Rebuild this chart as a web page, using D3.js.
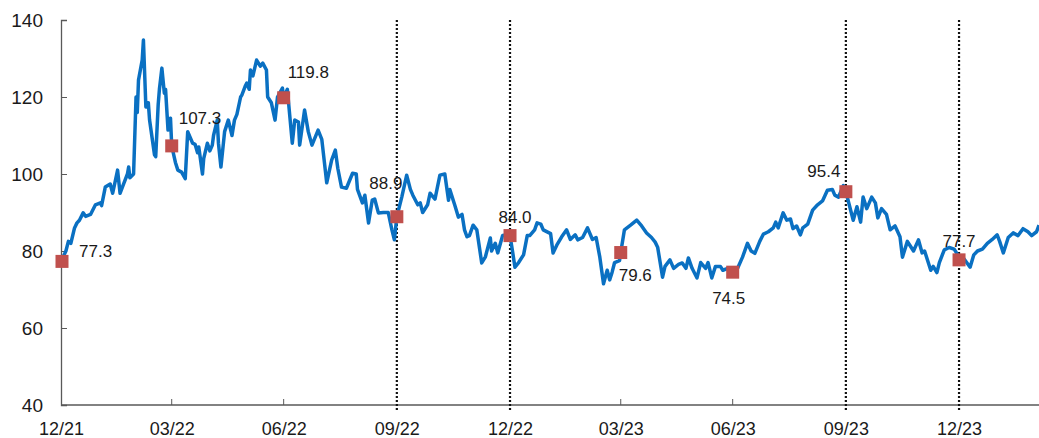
<!DOCTYPE html>
<html>
<head>
<meta charset="utf-8">
<script src="https://cdn.jsdelivr.net/npm/d3@7"></script>
<style>
  body { margin: 0; background: #fff; }
  text { font-family: "Liberation Sans", Arial, sans-serif; }
</style>
</head>
<body>
<div id="chart"></div>
<script>
// daily price
const dates = [
  "2021-12-31","2022-01-04","2022-01-06","2022-01-08","2022-01-11","2022-01-13","2022-01-15","2022-01-18","2022-01-20","2022-01-24",
  "2022-01-28","2022-02-01","2022-02-02","2022-02-05","2022-02-09","2022-02-11","2022-02-15","2022-02-17","2022-02-20","2022-02-23",
  "2022-02-24","2022-02-25","2022-02-28","2022-03-02","2022-03-03","2022-03-04","2022-03-07","2022-03-08","2022-03-10","2022-03-12",
  "2022-03-13","2022-03-17","2022-03-18","2022-03-20","2022-03-21","2022-03-23","2022-03-25","2022-03-26","2022-03-28","2022-03-30",
  "2022-03-31","2022-04-03","2022-04-05","2022-04-08","2022-04-11","2022-04-13","2022-04-17","2022-04-19","2022-04-21","2022-04-22",
  "2022-04-25","2022-04-26","2022-04-29","2022-05-01","2022-05-03","2022-05-04","2022-05-07","2022-05-08","2022-05-10","2022-05-13",
  "2022-05-16","2022-05-19","2022-05-21","2022-05-23","2022-05-26","2022-05-27","2022-05-30","2022-05-31","2022-06-02","2022-06-03",
  "2022-06-05","2022-06-08","2022-06-11","2022-06-13","2022-06-16","2022-06-17","2022-06-20","2022-06-23","2022-06-25","2022-06-29",
  "2022-06-30","2022-07-03","2022-07-07","2022-07-09","2022-07-12","2022-07-13","2022-07-17","2022-07-20","2022-07-23","2022-07-28",
  "2022-07-31","2022-08-04","2022-08-08","2022-08-11","2022-08-13","2022-08-16","2022-08-20","2022-08-25","2022-08-28","2022-08-29",
  "2022-09-02","2022-09-04","2022-09-07","2022-09-10","2022-09-12","2022-09-15","2022-09-19","2022-09-23","2022-09-26","2022-09-28",
  "2022-09-30","2022-10-04","2022-10-08","2022-10-11","2022-10-13","2022-10-17","2022-10-19","2022-10-21","2022-10-25","2022-10-27",
  "2022-10-31","2022-11-04","2022-11-08","2022-11-11","2022-11-12","2022-11-16","2022-11-19","2022-11-22","2022-11-24","2022-11-26",
  "2022-11-28","2022-12-01","2022-12-04","2022-12-08","2022-12-11","2022-12-15","2022-12-16","2022-12-19","2022-12-21","2022-12-25",
  "2022-12-29","2022-12-31","2023-01-02","2023-01-04","2023-01-07","2023-01-11","2023-01-14","2023-01-16","2023-01-20","2023-01-22",
  "2023-01-25","2023-01-27","2023-02-02","2023-02-04","2023-02-07","2023-02-11","2023-02-15","2023-02-18","2023-02-22","2023-02-24",
  "2023-02-28","2023-03-04","2023-03-08","2023-03-11","2023-03-14","2023-03-17","2023-03-20","2023-03-22","2023-03-24","2023-03-26",
  "2023-03-30","2023-03-31","2023-04-03","2023-04-08","2023-04-13","2023-04-17","2023-04-21","2023-04-25","2023-04-28","2023-04-30",
  "2023-05-04","2023-05-06","2023-05-10","2023-05-13","2023-05-17","2023-05-20","2023-05-23","2023-05-25","2023-05-28","2023-06-01",
  "2023-06-04","2023-06-08","2023-06-10","2023-06-13","2023-06-16","2023-06-20","2023-06-22","2023-06-26","2023-06-30","2023-07-04",
  "2023-07-08","2023-07-12","2023-07-15","2023-07-18","2023-07-22","2023-07-25","2023-07-29","2023-08-02","2023-08-04","2023-08-06",
  "2023-08-10","2023-08-13","2023-08-16","2023-08-18","2023-08-21","2023-08-24","2023-08-26","2023-08-30","2023-09-03","2023-09-07",
  "2023-09-11","2023-09-15","2023-09-19","2023-09-21","2023-09-24","2023-09-28","2023-09-30","2023-10-06","2023-10-09","2023-10-12",
  "2023-10-14","2023-10-17","2023-10-21","2023-10-24","2023-10-26","2023-10-29","2023-11-02","2023-11-05","2023-11-09","2023-11-13",
  "2023-11-15","2023-11-19","2023-11-21","2023-11-24","2023-11-28","2023-12-01","2023-12-03","2023-12-08","2023-12-10","2023-12-13",
  "2023-12-15","2023-12-19","2023-12-23","2023-12-27","2023-12-30","2023-12-31","2024-01-04","2024-01-09","2024-01-12","2024-01-15",
  "2024-01-19","2024-01-23","2024-01-27","2024-01-31","2024-02-02","2024-02-05","2024-02-09","2024-02-13","2024-02-17","2024-02-21",
  "2024-02-25","2024-02-28","2024-03-03","2024-03-05"
];
const prices = [
  77.3,80,82.5,82,86,87.3,88,89.9,89,89.5,
  92,92.5,91.8,96.6,97.4,95,101,95,97.5,100,
  101.8,99,100,120,116,124.4,129.6,134.8,117.4,118.5,
  114,105,104.5,118,122,127.5,121,122,111.4,114.5,
  107.3,103,101,100.5,98.8,111,108,107.7,105.5,107,
  100,104,108,106,107.5,110,114,108,101.8,111,
  114,110,114,115.5,120,120.5,123,123.6,122,127,
  125.5,129.6,128,128.8,127,120,118.5,114,120,122.3,
  119.8,122,108,114,113.5,107.5,116.6,111,107.5,111.4,
  109,97.7,103.6,106.2,101.5,96.6,96.3,100.2,100,96,
  92.5,94.5,87.3,93.2,93.5,89.9,90,90,85.5,82.9,
  88.9,94,99.7,96,94.5,92,92.5,90,92,95,
  93.5,99.7,100,93.2,96,92,88.8,89.5,85.5,83.7,
  84,86.7,85.5,76.9,78.5,83.4,80,82,79.5,84,
  84.2,84.0,80,75.8,77,79,84,84,85.5,87.3,
  87,85.5,84.5,79.5,81.5,83.7,85.5,83,84.2,82.9,
  83.5,86,83,83.5,78.4,71.5,75,72.5,74.5,77,
  77.5,79.6,85.5,86.7,88,86.5,84.7,83.5,82.3,81,
  73.2,76,77.7,75.5,76.5,76.9,75.5,78.2,75.5,73,
  77,75.5,77,73,76,76,75,75.5,74.5,75.5,
  78.4,82,80,79.4,82.5,84.4,85,86,87.5,86,
  89.9,88,88.3,85.8,86.5,84.2,86,87,90.6,92,
  93,95.8,96,94.5,94,97,95.4,88,91.5,87.5,
  94,91,94,92.5,88.6,91,89.5,85.5,86.5,83.7,
  78.4,82.5,81.5,80,82.9,79.5,80,75,76,74.4,
  77,80.3,80.9,80.5,79,77.7,78,75.8,79,80,
  80.5,82,83,84.2,82.5,79.5,83.5,84.7,84,85.8,
  85,84,85,86.7
];

// quarter-end markers
const markerDates = ["2021-12-31","2022-03-31","2022-06-30","2022-09-30","2022-12-31","2023-03-31","2023-06-30","2023-09-30","2023-12-31"];
const markerValues = [77.3,107.3,119.8,88.9,84.0,79.6,74.5,95.4,77.7];
// label placement: [dx, dy, anchor]
const labelPos = [[18,-4,"start"],[7,-22,"start"],[4,-20,"start"],[-11,-28,"middle"],[5,-13,"middle"],[-2,28,"start"],[-4,32,"middle"],[-22,-15,"middle"],[0,-13,"middle"]];

const xTicks = ["2021-12-31","2022-03-31","2022-06-30","2022-09-30","2022-12-31","2023-03-31","2023-06-30","2023-09-30","2023-12-31"];
const dottedAt = ["2022-09-30","2022-12-31","2023-09-30","2023-12-31"];
const shortTicksAt = ["2022-03-31","2022-06-30","2023-03-31","2023-06-30"];
const yTicks = [40,60,80,100,120,140];

const parse = d3.timeParse("%Y-%m-%d");
const W = 1039, H = 438;

const svg = d3.select("#chart").append("svg")
  .attr("width", W).attr("height", H);

const x = d3.scaleTime()
  .domain([parse("2021-12-31"), parse("2024-03-05")])
  .range([61, 1039]);
const y = d3.scaleLinear().domain([40, 140]).range([405, 20]);

// y axis, ticks pointing inward
const yAxis = svg.append("g")
  .attr("transform", "translate(61,0)")
  .call(d3.axisLeft(y).tickValues(yTicks).tickSize(-6).tickPadding(18));
yAxis.select(".domain").attr("stroke", "#595959").attr("stroke-width", 1.3);
yAxis.selectAll(".tick line").attr("stroke", "#595959");
yAxis.selectAll("text").style("font-size", "19px").attr("fill", "#1a1a1a");

// x axis
const xAxis = svg.append("g")
  .attr("transform", "translate(0,405)")
  .call(d3.axisBottom(x).tickValues(xTicks.map(parse)).tickSize(0).tickPadding(17)
    .tickFormat(d3.timeFormat("%m/%y")))
  .call(g => g.select(".domain").attr("d", `M61,0H${W}`));
xAxis.select(".domain").attr("stroke", "#595959").attr("stroke-width", 1.3);
xAxis.selectAll("text").style("font-size", "18px").attr("fill", "#1a1a1a");

svg.append("g").selectAll("line")
  .data(shortTicksAt.map(parse))
  .join("line")
  .attr("x1", d => x(d)).attr("x2", d => x(d))
  .attr("y1", 405).attr("y2", 399)
  .attr("stroke", "#595959");

// dotted quarter lines
svg.append("g").selectAll("line")
  .data(dottedAt.map(parse))
  .join("line")
  .attr("x1", d => x(d)).attr("x2", d => x(d))
  .attr("y1", 20).attr("y2", 411)
  .attr("stroke", "#111")
  .attr("stroke-width", 2.2)
  .attr("stroke-dasharray", "2,2");

// price line
const series = dates.map((d, i) => ({date: parse(d), value: prices[i]}));
const line = d3.line()
  .x(d => x(d.date))
  .y(d => y(d.value));

svg.append("path")
  .datum(series)
  .attr("d", line)
  .attr("fill", "none")
  .attr("stroke", "#0a70c2")
  .attr("stroke-width", 3.5)
  .attr("stroke-linejoin", "round");

// markers
const markers = markerDates.map((d, i) => ({date: parse(d), value: markerValues[i], pos: labelPos[i]}));
const sq = 13;
svg.append("g").selectAll("rect")
  .data(markers)
  .join("rect")
  .attr("x", d => x(d.date) - sq / 2 + (d.date.getTime() === parse("2021-12-31").getTime() ? 1 : 0))
  .attr("y", d => y(d.value) - sq / 2)
  .attr("width", sq).attr("height", sq)
  .attr("fill", "#c0504d");

svg.append("g").selectAll("text")
  .data(markers)
  .join("text")
  .attr("x", d => x(d.date) + d.pos[0])
  .attr("y", d => y(d.value) + d.pos[1])
  .attr("text-anchor", d => d.pos[2])
  .style("font-size", "17px")
  .attr("fill", "#1a1a1a")
  .text(d => d3.format(".1f")(d.value));
</script>
</body>
</html>
